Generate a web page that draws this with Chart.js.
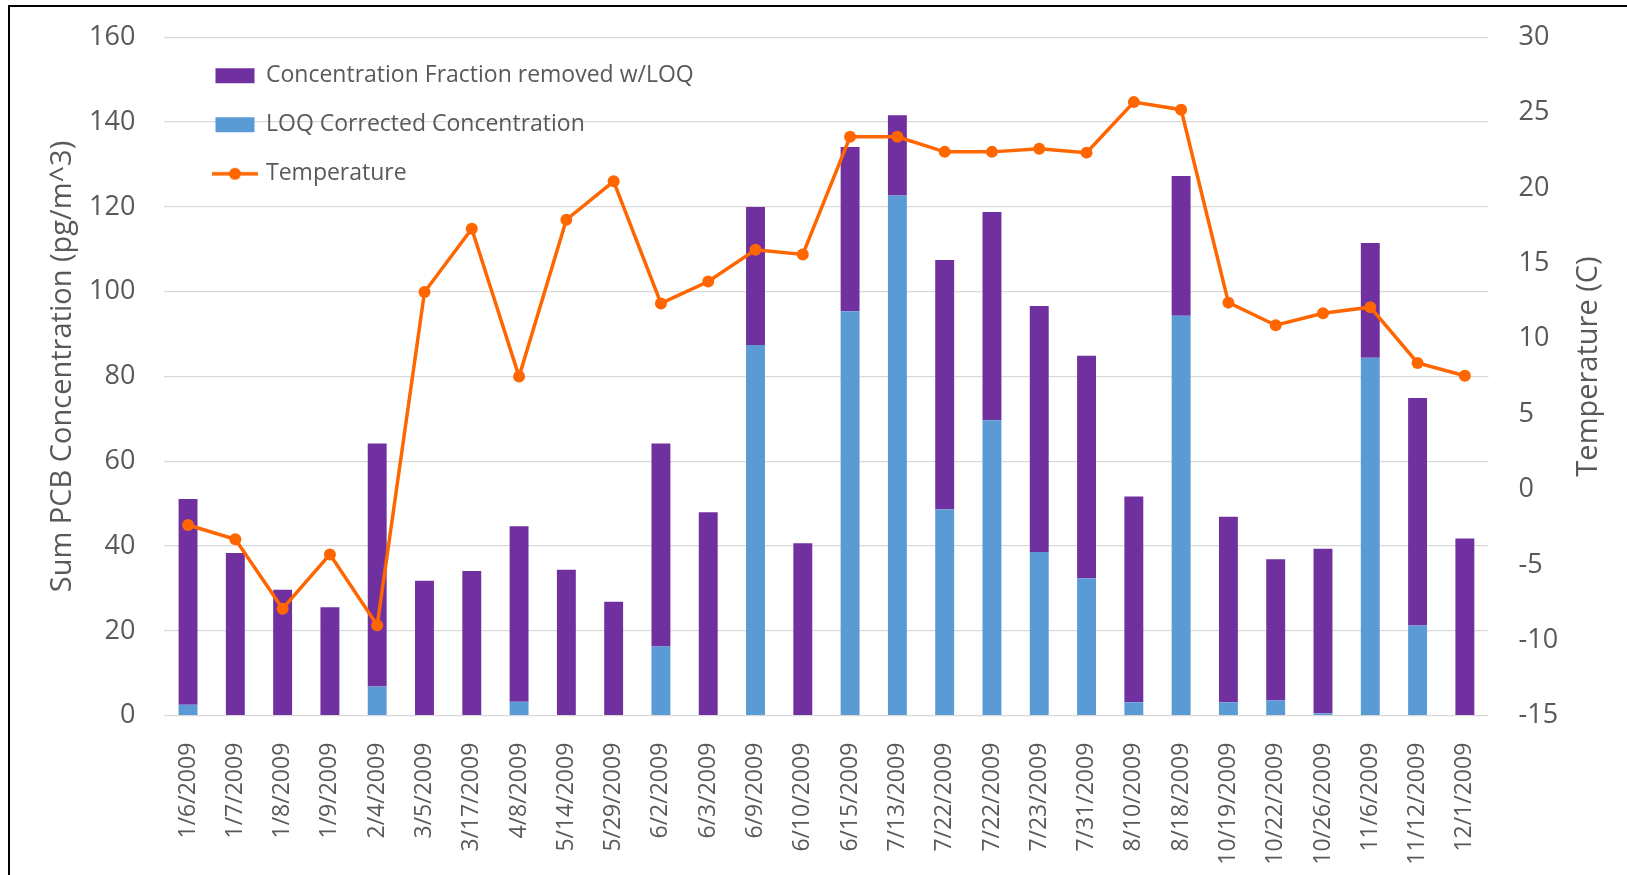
<!DOCTYPE html>
<html>
<head>
<meta charset="utf-8">
<script src="https://cdn.jsdelivr.net/npm/chart.js@4.4.1/dist/chart.umd.min.js"></script>
<style>
  html, body { margin: 0; padding: 0; background: #ffffff; }
  #wrap { position: relative; width: 1627px; height: 875px; overflow: hidden; }
  #c { position: absolute; left: 0; top: 0; }
  #frame { position: absolute; left: 8px; top: 5px; width: 1630px; height: 868px;
           border-top: 2px solid #000; border-left: 2px solid #000; border-bottom: 1px solid #dcdcdc;
           pointer-events: none; }
</style>
</head>
<body>
<div id="wrap">
  <canvas id="c" width="1627" height="875"></canvas>
  <div id="frame"></div>
</div>
<script>
// ---- Data ----
const sampleDates = ['1/6/2009','1/7/2009','1/8/2009','1/9/2009','2/4/2009','3/5/2009','3/17/2009','4/8/2009',
  '5/14/2009','5/29/2009','6/2/2009','6/3/2009','6/9/2009','6/10/2009','6/15/2009','7/13/2009','7/22/2009',
  '7/22/2009','7/23/2009','7/31/2009','8/10/2009','8/18/2009','10/19/2009','10/22/2009','10/26/2009',
  '11/6/2009','11/12/2009','12/1/2009'];
const loqCorrected = [2.6,0,0,0,6.9,0,0,3.3,0,0,16.3,0,87.4,0,95.4,122.7,48.7,69.7,38.6,32.4,3.2,94.3,3.2,3.6,0.6,84.4,21.3,0];
const fractionRemoved = [48.5,38.4,29.7,25.6,57.3,31.8,34.1,41.4,34.4,26.9,47.9,48.0,32.6,40.7,38.7,18.9,58.8,49.1,58.0,52.5,48.5,33.0,43.7,33.3,38.8,27.1,53.6,41.8];
const temperature = [-2.35,-3.3,-7.9,-4.3,-9.0,13.1,17.3,7.5,17.9,20.45,12.35,13.8,15.9,15.6,23.4,23.4,22.4,22.4,22.6,22.35,25.7,25.2,12.4,10.9,11.7,12.1,8.4,7.55];
const leftTicks = {min: 0, max: 160, step: 20};
const rightTicks = {min: -15, max: 30, step: 5};
const leftTitle = 'Sum PCB Concentration (pg/m^3)';
const rightTitle = 'Temperature (C)';

const PURPLE = '#7030A0', BLUE = '#5B9BD5', ORANGE = '#FF6600', TXT = '#595959', GRID = '#D9D9D9';
const FONT = "'Open Sans', 'Noto Sans', sans-serif";

// legend symbol for the temperature series: line with a round marker
const tempSymbol = document.createElement('canvas');
tempSymbol.width = 46; tempSymbol.height = 14;
(function () {
  const g = tempSymbol.getContext('2d');
  g.strokeStyle = ORANGE; g.lineWidth = 3.5;
  g.beginPath(); g.moveTo(0, 7); g.lineTo(46, 7); g.stroke();
  g.fillStyle = ORANGE; g.beginPath(); g.arc(23, 7, 6, 0, Math.PI * 2); g.fill();
})();

const legendRank = {2: 0, 1: 1, 0: 2};
const placeLegend = {
  id: 'placeLegend',
  afterLayout(chart) {
    const lg = chart.legend;
    if (!lg) return;
    const w = lg.width, h = lg.height;
    lg.left = 189.5; lg.top = 38.3;
    lg.right = lg.left + w; lg.bottom = lg.top + h;
  }
};

// axis titles, both reading bottom-to-top as in the reference
const axisTitles = {
  id: 'axisTitles',
  afterDraw(chart) {
    const ctx = chart.ctx;
    const draw = (text, x, y) => {
      ctx.save();
      ctx.translate(x, y);
      ctx.rotate(-Math.PI / 2);
      ctx.font = "29px " + FONT;
      ctx.fillStyle = TXT;
      ctx.textAlign = 'center';
      ctx.textBaseline = 'middle';
      ctx.fillText(text, 0, 0);
      ctx.restore();
    };
    draw(leftTitle, 63, 366.5);
    draw(rightTitle, 1589, 366.5);
  }
};

function noEdgePadding(s) { s.paddingTop = 0; s.paddingBottom = 0; }

new Chart(document.getElementById('c'), {
  data: {
    labels: sampleDates,
    datasets: [
      {
        type: 'line', label: 'Temperature', data: temperature, yAxisID: 'y1', order: 0,
        borderColor: ORANGE, backgroundColor: ORANGE, borderWidth: 3.5, tension: 0,
        pointRadius: 6, pointHoverRadius: 6, pointBackgroundColor: ORANGE, pointBorderColor: ORANGE, pointBorderWidth: 0
      },
      {
        type: 'bar', label: 'LOQ Corrected Concentration', data: loqCorrected, yAxisID: 'y', order: 1,
        backgroundColor: BLUE, borderWidth: 0, categoryPercentage: 1, barPercentage: 0.4, stack: 's'
      },
      {
        type: 'bar', label: 'Concentration Fraction removed w/LOQ', data: fractionRemoved, yAxisID: 'y', order: 1,
        backgroundColor: PURPLE, borderWidth: 0, categoryPercentage: 1, barPercentage: 0.4, stack: 's'
      }
    ]
  },
  options: {
    responsive: false,
    animation: false,
    devicePixelRatio: 1,
    layout: { padding: { top: 37.3, left: 0, right: 0, bottom: 0 } },
    plugins: {
      tooltip: { enabled: false },
      legend: {
        display: true,
        position: 'chartArea',
        align: 'start',
        labels: {
          color: TXT,
          font: { family: FONT, size: 23 },
          padding: 26,
          boxHeight: 15,
          usePointStyle: true,
          pointStyleWidth: 39,
          sort: (a, b) => legendRank[a.datasetIndex] - legendRank[b.datasetIndex],
          generateLabels(chart) {
            const items = Chart.defaults.plugins.legend.labels.generateLabels(chart);
            items.forEach(it => {
              if (it.datasetIndex === 0) {
                it.pointStyle = tempSymbol;
              } else {
                it.pointStyle = 'rect';
                it.lineWidth = 0;
                it.strokeStyle = 'rgba(0,0,0,0)';
              }
            });
            return items;
          }
        }
      }
    },
    scales: {
      x: {
        stacked: true,
        grid: { display: false },
        border: { display: false },
        ticks: {
          autoSkip: false, minRotation: 90, maxRotation: 90, padding: 19,
          color: TXT, font: { family: FONT, size: 23 }
        },
        afterFit(s) { s.height = 875 - 715.7; }
      },
      y: {
        type: 'linear', position: 'left', stacked: true,
        min: leftTicks.min, max: leftTicks.max,
        ticks: { stepSize: leftTicks.step, padding: 29, color: TXT, font: { family: FONT, size: 27 } },
        grid: { color: GRID, lineWidth: 1.3, drawTicks: false },
        border: { display: false },
        title: { display: false, text: leftTitle },
        afterFit(s) { s.width = 164.4; noEdgePadding(s); }
      },
      y1: {
        type: 'linear', position: 'right',
        min: rightTicks.min, max: rightTicks.max,
        ticks: { stepSize: rightTicks.step, padding: 30, color: TXT, font: { family: FONT, size: 27 } },
        grid: { drawOnChartArea: false, drawTicks: false },
        border: { display: false },
        title: { display: false, text: rightTitle },
        afterFit(s) { s.width = 1627 - 1488.5; noEdgePadding(s); }
      }
    }
  },
  plugins: [placeLegend, axisTitles]
});
</script>
</body>
</html>
